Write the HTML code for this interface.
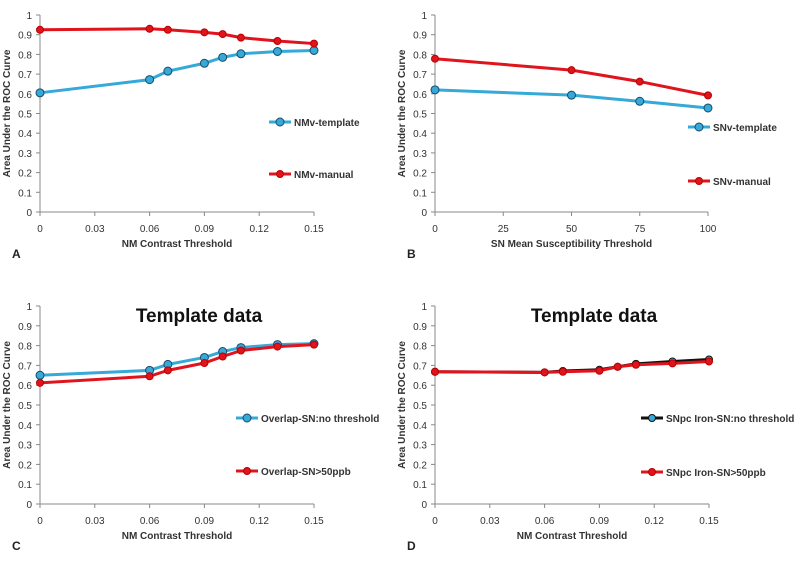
<!DOCTYPE html>
<html><head><meta charset="utf-8"><style>
body{margin:0;background:#fff}
svg{display:block;font-family:"Liberation Sans",sans-serif}
</style></head><body>
<svg id="chart" width="806" height="567"></svg>
<script>
const xNM=[0,0.06,0.07,0.09,0.10,0.11,0.13,0.15];
const xSN=[0,50,75,100];
const aTemplate=[0.605,0.672,0.715,0.755,0.785,0.803,0.815,0.82];
const aManual=[0.925,0.93,0.925,0.912,0.903,0.885,0.868,0.855];
const bTemplate=[0.62,0.593,0.562,0.528];
const bManual=[0.778,0.72,0.662,0.592];
const cNoThr=[0.65,0.675,0.705,0.74,0.77,0.79,0.805,0.81];
const c50=[0.612,0.645,0.675,0.712,0.745,0.775,0.795,0.805];
const dNoThr=[0.668,0.665,0.672,0.678,0.693,0.708,0.72,0.73];
const d50=[0.668,0.665,0.668,0.673,0.693,0.703,0.71,0.72];
const yTicks=[0,0.1,0.2,0.3,0.4,0.5,0.6,0.7,0.8,0.9,1];
const yTickLabels=["0","0.1","0.2","0.3","0.4","0.5","0.6","0.7","0.8","0.9","1"];
const nmTicks=[0,0.03,0.06,0.09,0.12,0.15];
const nmTickLabels=["0","0.03","0.06","0.09","0.12","0.15"];
const snTicks=[0,25,50,75,100];
const snTickLabels=["0","25","50","75","100"];

const svg=document.getElementById('chart');
const NS='http://www.w3.org/2000/svg';
function mk(tag,attrs,parent){const e=document.createElementNS(NS,tag);for(const k in attrs)e.setAttribute(k,attrs[k]);(parent||svg).appendChild(e);return e;}

function panel(p){
  const g=mk('g',{});
  
  
  const xs=v=>p.x0+(v-p.xmin)/(p.xmax-p.xmin)*(p.x1-p.x0);
  const ys=v=>p.y0-v*(p.y0-p.y1);
  const ax=mk('line',{x1:p.x0,y1:p.y1,x2:p.x0,y2:p.y0,stroke:'#888','stroke-width':1},g);
  
  const bx=mk('line',{x1:p.x0,y1:p.y0,x2:p.x1,y2:p.y0,stroke:'#888','stroke-width':1},g);
  
  yTicks.forEach((v,i)=>{
    mk('line',{x1:p.x0-4,y1:ys(v),x2:p.x0,y2:ys(v),stroke:'#888'},g);
    const t=mk('text',{x:p.x0-8,y:ys(v)+4,'text-anchor':'end','font-size':10,fill:'#333'},g);
    t.textContent=yTickLabels[i];
    
  });
  p.ticks.forEach((v,i)=>{
    mk('line',{x1:xs(v),y1:p.y0,x2:xs(v),y2:p.y0+4,stroke:'#888'},g);
    const t=mk('text',{x:xs(v),y:p.y0+20,'text-anchor':'middle','font-size':10,fill:'#333'},g);
    t.textContent=p.tickLabels[i];
    
  });
  const xt=mk('text',{x:(p.x0+p.x1)/2,y:p.y0+35,'text-anchor':'middle','font-size':10,'font-weight':'bold',fill:'#333'},g);
  xt.textContent=p.xtitle;
  const cy=(p.y0+p.y1)/2;
  const yt=mk('text',{x:p.x0-30,y:cy,'text-anchor':'middle','font-size':10,'font-weight':'bold',fill:'#333',transform:`rotate(-90 ${p.x0-30} ${cy})`},g);
  yt.textContent='Area Under the ROC Curve';
  const lt=mk('text',{x:p.x0-28,y:p.y0+46,'font-size':12,'font-weight':'bold',fill:'#222'},g);
  lt.textContent=p.letter;
  if(p.title){const tt=mk('text',{x:p.titleX,y:p.y1+16,'text-anchor':'middle','font-size':19,'font-weight':'bold',fill:'#111'},g);
    tt.textContent=p.title;}
  p.series.forEach(s=>{
    const pts=s.vals.map((v,i)=>xs(p.xv[i])+','+ys(v)).join(' ');
    const pl=mk('polyline',{points:pts,fill:'none',stroke:s.color,'stroke-width':3},g);
    
    s.vals.forEach((v,i)=>{
      const c=mk('circle',{cx:xs(p.xv[i]),cy:ys(v),r:s.r,fill:s.fill,stroke:s.mstroke,'stroke-width':1},g);
      
    });
    const lg=mk('g',{},g);
    
    mk('line',{x1:p.lx,y1:s.ly,x2:p.lx+22,y2:s.ly,stroke:s.color,'stroke-width':3},lg);
    mk('circle',{cx:p.lx+11,cy:s.ly,r:s.r,fill:s.fill,stroke:s.mstroke},lg);
    const lt2=mk('text',{x:p.lx+25,y:s.ly+4,'font-size':10,'font-weight':'bold',fill:'#333'},lg);
    lt2.textContent=s.name;
  });
}
const blue={color:'#35a9d8',fill:'#35a9d8',mstroke:'#1a4a6a',r:4};
const red={color:'#e0141c',fill:'#e0141c',mstroke:'#b00',r:3.5};
panel({letter:'A',x0:40,x1:314,y0:212,y1:15,xmin:0,xmax:0.15,xv:xNM,ticks:nmTicks,tickLabels:nmTickLabels,xtitle:'NM Contrast Threshold',lx:269,
  series:[Object.assign({vals:aTemplate,name:'NMv-template',ly:122},blue),Object.assign({vals:aManual,name:'NMv-manual',ly:174},red)]});
panel({letter:'B',x0:435,x1:708,y0:212,y1:15,xmin:0,xmax:100,xv:xSN,ticks:snTicks,tickLabels:snTickLabels,xtitle:'SN Mean Susceptibility Threshold',lx:688,
  series:[Object.assign({vals:bTemplate,name:'SNv-template',ly:127},blue),Object.assign({vals:bManual,name:'SNv-manual',ly:181},red)]});
panel({letter:'C',x0:40,x1:314,y0:504,y1:306,xmin:0,xmax:0.15,xv:xNM,ticks:nmTicks,tickLabels:nmTickLabels,xtitle:'NM Contrast Threshold',lx:236,title:'Template data',titleX:199,
  series:[Object.assign({vals:cNoThr,name:'Overlap-SN:no threshold',ly:418},blue),Object.assign({vals:c50,name:'Overlap-SN>50ppb',ly:471},red)]});
panel({letter:'D',x0:435,x1:709,y0:504,y1:306,xmin:0,xmax:0.15,xv:xNM,ticks:nmTicks,tickLabels:nmTickLabels,xtitle:'NM Contrast Threshold',lx:641,title:'Template data',titleX:594,
  series:[{vals:dNoThr,name:'SNpc Iron-SN:no threshold',ly:418,color:'#111',fill:'#35a9d8',mstroke:'#111',r:3.5},Object.assign({vals:d50,name:'SNpc Iron-SN>50ppb',ly:472},red)]});
</script>
</body></html>
